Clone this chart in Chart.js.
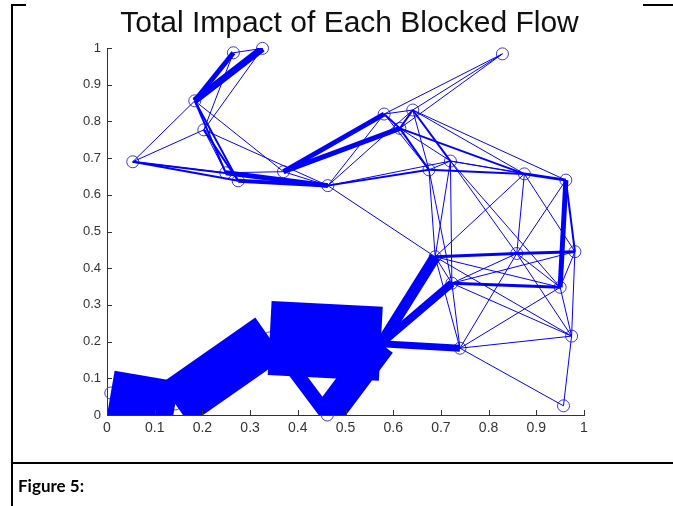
<!DOCTYPE html>
<html><head><meta charset="utf-8">
<script src="https://cdn.jsdelivr.net/npm/chart.js@4/dist/chart.umd.min.js"></script>
<style>
html,body{margin:0;padding:0;background:#fff;}
body{width:673px;height:506px;position:relative;overflow:hidden;}
#c{position:absolute;left:0;top:0;}
.ln{position:absolute;background:#000;}
#title{position:absolute;left:111px;width:477px;top:5px;text-align:center;font:30px "Liberation Sans",Arial,sans-serif;color:#111;white-space:nowrap;}
#cap{position:absolute;left:18px;top:475px;font:bold 17px Lato,sans-serif;color:#000;}
</style></head><body>
<canvas id="c" width="673" height="506"></canvas>
<div class="ln" style="left:11px;top:4px;width:2px;height:502px"></div>
<div class="ln" style="left:11px;top:4px;width:15px;height:2px"></div>
<div class="ln" style="left:643px;top:4px;width:30px;height:2px"></div>
<div class="ln" style="left:11px;top:462px;width:662px;height:2px"></div>
<div id="title">Total Impact of Each Blocked Flow</div>
<div id="cap">Figure 5:</div>
<script>
// node positions (data coordinates)
const nodeX = [0.265,0.326,0.829,0.184,0.203,0.054,0.249,0.275,0.370,0.463,
               0.581,0.641,0.614,0.675,0.720,0.875,0.962,0.688,0.859,0.981,
               0.723,0.950,0.974,0.740,0.957,0.008,0.462,0.143,0.341,0.574];
const nodeY = [0.987,0.999,0.984,0.856,0.777,0.690,0.660,0.638,0.663,0.625,
               0.820,0.831,0.781,0.668,0.692,0.657,0.640,0.431,0.440,0.445,
               0.359,0.348,0.215,0.182,0.025,0.060,0.000,0.030,0.210,0.194];
// edges: from node, to node, impact (line width)
const edgeFrom = [3,3,0,4,4,3,4,5,5,5,3,3,4,4,3,4,6,7,6,8,8,8,9,9,9,9,9,
                  2,2,2,10,10,11,10,11,12,11,12,12,11,11,13,13,14,15,14,
                  13,13,14,14,14,14,15,15,15,16,16,16,
                  17,18,17,17,17,17,20,20,20,20,20,23,23,23,23,22,18,19,21,18,21,
                  25,27,28,26,28,29,29,29];
const edgeTo   = [0,1,1,0,1,5,5,7,6,9,6,7,6,7,8,9,9,9,8,9,10,12,10,11,13,14,17,
                  10,11,12,11,12,12,13,13,13,14,14,15,15,16,14,15,15,16,16,
                  17,20,17,20,18,21,17,18,19,18,21,19,
                  18,19,20,21,22,23,21,18,19,22,23,18,21,22,24,24,22,22,19,21,22,
                  27,28,29,29,26,17,20,23];
const edgeWidth= [5,7,1,1,1,1,1,2,1,2,2,2,1,2,1,1,5,4,1,1,5,5,1,1,2,1,1,
                  1,1,1,1,2,2,1,1,2,2,1,2,1,1,1,2,1,3,1,
                  1,1,1,1,1,1,1,1,1,1,5,2,
                  3,3,1,1,1,1,3,1,1,1,1,1,1,1,1,1,1,1,1,1,1,
                  45,50,74,30,14,11,8,7];
const xTickLabels = ['0','0.1','0.2','0.3','0.4','0.5','0.6','0.7','0.8','0.9','1'];
const yTickLabels = ['0','0.1','0.2','0.3','0.4','0.5','0.6','0.7','0.8','0.9','1'];

const datasets = edgeFrom.map((f,i)=>({
  data:[{x:nodeX[f],y:nodeY[f]},{x:nodeX[edgeTo[i]],y:nodeY[edgeTo[i]]}],
  showLine:true, borderColor:'#0000ff', backgroundColor:'#0000ff',
  borderWidth:edgeWidth[i], pointRadius:0, borderCapStyle:'butt', clip:0, order:1
}));
datasets.push({
  data:nodeX.map((x,i)=>({x:x,y:nodeY[i]})), showLine:false,
  pointRadius:6, pointStyle:'circle', borderColor:'#3a3ad0', borderWidth:1,
  backgroundColor:'rgba(0,0,0,0)', clip:false, order:2
});

const inTicks = {id:'inTicks', afterDraw(chart){
  const {ctx, chartArea:a, scales:{x,y}} = chart;
  ctx.save(); ctx.strokeStyle='#333'; ctx.lineWidth=1; ctx.beginPath();
  x.ticks.forEach(t=>{const p=Math.round(x.getPixelForValue(t.value))+0.5; ctx.moveTo(p,a.bottom); ctx.lineTo(p,a.bottom-5);});
  y.ticks.forEach(t=>{const p=Math.round(y.getPixelForValue(t.value))+0.5; ctx.moveTo(a.left,p); ctx.lineTo(a.left+5,p);});
  ctx.stroke(); ctx.restore();
}};

const tickFontX = {family:'"Liberation Sans", Arial, sans-serif', size:14};
const tickFontY = {family:'"Liberation Sans", Arial, sans-serif', size:13};
new Chart(document.getElementById('c'), {
  type:'scatter',
  data:{datasets},
  options:{
    responsive:false, animation:false, devicePixelRatio:1, events:[],
    layout:{padding:{left:67,right:89,top:48,bottom:61}},
    plugins:{legend:{display:false}, tooltip:{enabled:false}, title:{display:false}},
    scales:{
      x:{type:'linear', min:0, max:1,
         ticks:{stepSize:0.1, autoSkip:false, maxRotation:0, padding:5, color:'#333', font:tickFontX,
                callback:(v,i)=>xTickLabels[i]},
         grid:{display:false, drawTicks:false}, border:{display:true, color:'#333', width:1},
         afterFit(s){s.height=30;}},
      y:{type:'linear', min:0, max:1,
         ticks:{stepSize:0.1, autoSkip:false, padding:6, color:'#333', font:tickFontY,
                callback:(v,i)=>yTickLabels[i]},
         grid:{display:false, drawTicks:false}, border:{display:true, color:'#333', width:1},
         afterFit(s){s.width=40;}}
    }
  },
  plugins:[inTicks]
});
</script>
</body></html>
